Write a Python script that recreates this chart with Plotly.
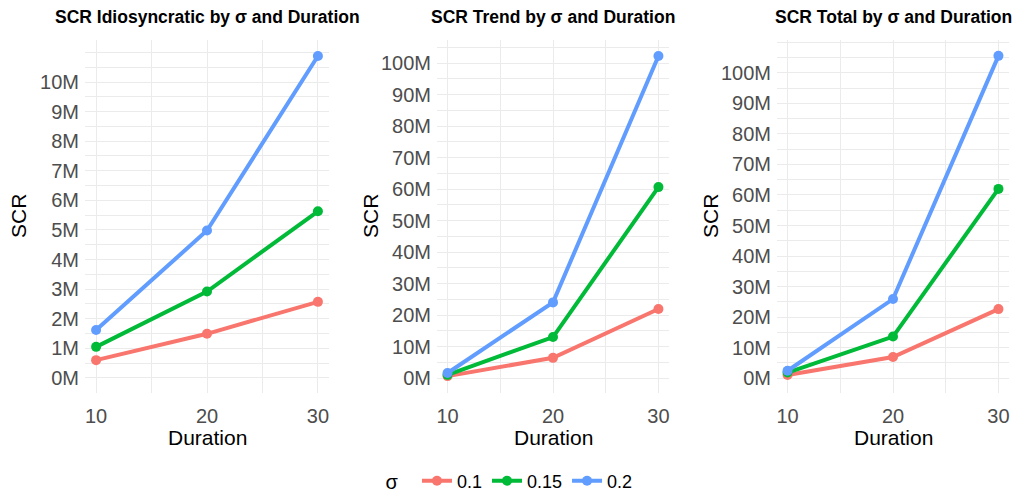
import plotly.graph_objects as go

durations = [10, 20, 30]
sigmas = ["0.1", "0.15", "0.2"]
colors = ["#F8766D", "#00BA38", "#619CFF"]

# values in millions
idio = {
    "0.1": [0.60, 1.49, 2.57],
    "0.15": [1.05, 2.92, 5.63],
    "0.2": [1.62, 4.98, 10.88],
}
trend = {
    "0.1": [0.6, 6.4, 21.9],
    "0.15": [1.0, 13.0, 60.6],
    "0.2": [1.6, 24.0, 102.2],
}
total = {
    "0.1": [1.0, 6.9, 22.6],
    "0.15": [1.8, 13.6, 62.0],
    "0.2": [2.4, 25.9, 105.6],
}

titles = ["SCR Idiosyncratic by σ and Duration",
          "SCR Trend by σ and Duration",
          "SCR Total by σ and Duration"]
panels = [idio, trend, total]
yticks = [list(range(0, 11)), list(range(0, 101, 10)), list(range(0, 101, 10))]
yranges = [[-0.51, 11.42], [-4.76, 107.3], [-4.9, 110.8]]
ydticks = [1, 10, 10]

W, H = 1021, 495
MB = 42                      # bottom margin reserved for the legend
HP = H - MB                  # paper height in pixels
xpix = [(85, 329), (437, 669), (777, 1009)]
xdomains = [[a / W, b / W] for a, b in xpix]
ytop, ybot = 40, 393


def py(pix):
    return 1 - pix / HP


ydom = [py(ybot), py(ytop)]

fig = go.Figure()
grid = "#EBEBEB"
font = "Liberation Sans, Arial, sans-serif"

for i, (data, title) in enumerate(zip(panels, titles)):
    n = "" if i == 0 else str(i + 1)
    for s, c in zip(sigmas, colors):
        fig.add_trace(go.Scatter(
            x=durations, y=data[s],
            mode="lines+markers", name=s, legendgroup=s,
            showlegend=(i == 0),
            line=dict(color=c, width=4), marker=dict(color=c, size=10),
            xaxis="x" + n, yaxis="y" + n,
        ))
    fig.layout["xaxis" + n] = dict(
        domain=xdomains[i], anchor="y" + n, range=[9, 31],
        tickvals=durations, ticktext=[str(d) for d in durations],
        showgrid=True, gridcolor=grid, gridwidth=1.2, zeroline=False,
        minor=dict(dtick=5, tick0=0, showgrid=True, gridcolor=grid, gridwidth=0.6),
        tickfont=dict(size=20, color="#4D4D4D", family=font),
        ticks="", showline=False, fixedrange=True, ticklabelstandoff=9,
    )
    fig.layout["yaxis" + n] = dict(
        domain=ydom, anchor="x" + n, range=yranges[i],
        tickvals=yticks[i] + [yticks[i][-1] + ydticks[i]],
        ticktext=[f"{v}M" for v in yticks[i]] + [""],
        showgrid=True, gridcolor=grid, gridwidth=1.2, zeroline=False,
        minor=dict(dtick=ydticks[i] / 2, tick0=0, showgrid=True, gridcolor=grid, gridwidth=0.6),
        tickfont=dict(size=20, color="#4D4D4D", family=font),
        ticks="", showline=False, fixedrange=True, ticklabelstandoff=5,
    )
    cx = (xpix[i][0] + xpix[i][1]) / 2 / W
    fig.add_annotation(
        text="<b>" + title + "</b>", xref="paper", yref="paper",
        x=cx, y=py(17), xanchor="center", yanchor="middle",
        showarrow=False, font=dict(size=17.5, color="black", family=font),
    )
    fig.add_annotation(
        text="Duration", xref="paper", yref="paper",
        x=cx, y=py(437), xanchor="center", yanchor="middle",
        showarrow=False, font=dict(size=21, color="black", family=font),
    )
    fig.add_annotation(
        text="SCR", xref="paper", yref="paper", textangle=-90,
        x=(xpix[i][0] - 67) / W, y=py(216), xanchor="center", yanchor="middle",
        showarrow=False, font=dict(size=21, color="black", family=font),
    )

fig.update_layout(
    width=W, height=H,
    margin=dict(l=0, r=0, t=0, b=MB, autoexpand=False),
    paper_bgcolor="white", plot_bgcolor="white",
    showlegend=True,
    legend=dict(
        orientation="h", x=0.5, xanchor="center",
        yref="container", y=(H - 481) / H, yanchor="middle",
        title=dict(text="σ  ", font=dict(size=20, color="black", family=font)),
        font=dict(size=18, color="black", family=font),
        itemwidth=30,
    ),
)

fig.write_html("out.html", config={"displayModeBar": False},
               post_script="document.body.style.margin='0';")
